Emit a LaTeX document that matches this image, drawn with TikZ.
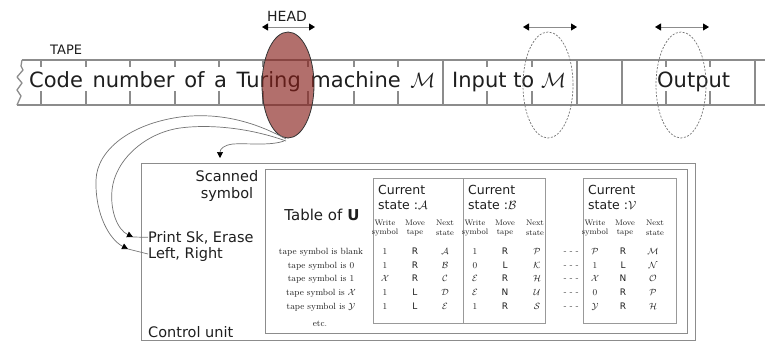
\documentclass[tikz,border=0pt]{standalone}
\usepackage{fontspec}
\setsansfont{DejaVu Sans}
\newfontfamily\tapefont[WordSpace=1.45]{DejaVu Sans}
\usetikzlibrary{shapes.geometric,arrows.meta}
\definecolor{headred}{RGB}{135,30,25}
\definecolor{txt}{RGB}{30,30,30}
\begin{document}
\begin{tikzpicture}[x=1pt,y=-1pt,
  tline/.style={draw=black!45, line width=1.3pt},
  bline/.style={draw=black!45, line width=1pt},
  cline/.style={draw=black!55, line width=0.7pt},
  tip/.style={-{Triangle[length=6pt,width=6pt,color=black]}},
  dtip/.style={{Triangle[length=6pt,width=7pt,color=black]}-{Triangle[length=6pt,width=7pt,color=black]}},
  big/.style={font=\sffamily\fontsize{21}{25}\selectfont, inner sep=0, text=txt},
  lab/.style={font=\sffamily\fontsize{14.5}{16.5}\selectfont, inner sep=0, text=txt},
  cur/.style={font=\sffamily\fontsize{12.5}{15}\selectfont, inner sep=0, text=txt, align=left, anchor=west},
  hdr/.style={font=\fontsize{8}{9.5}\selectfont, inner sep=0, text=txt, align=center},
  val/.style={font=\fontsize{9.5}{11}\selectfont, inner sep=0, text=txt, anchor=base},
  sval/.style={font=\sffamily\fontsize{9}{11}\selectfont, inner sep=0, text=txt, anchor=base},
  rowlab/.style={font=\fontsize{9}{11}\selectfont, inner sep=0, text=txt, anchor=base},
  dashed ell/.style={ellipse, draw=black!55, dash pattern=on 2pt off 1.5pt, line width=.7pt, minimum width=50, minimum height=106, inner sep=0}
]
\useasboundingbox (0,0) rectangle (765,341);
% ---------- tape ----------
\draw[tline] (22,60) -- (765,60);
\draw[tline] (17,105) -- (765,105);
\draw[tline, line join=round] (22,60) -- (21,66) -- (23,70) -- (17,77) -- (22,83) -- (17,90) -- (21,96) -- (17,105);
\foreach \x in {41,86,130,175,219,263,308,354,398,487,532,666,710} {
  \draw[tline] (\x,60) -- (\x,67);
  \draw[tline] (\x,91) -- (\x,105);
}
\foreach \x in {443,577,622,755} {
  \draw[tline] (\x,60) -- (\x,105);
}
\node[font=\sffamily\fontsize{13}{15}\selectfont, inner sep=0, text=txt, anchor=base west] (tape) at (50,54) {TAPE};
\node[big, font=\tapefont\fontsize{21}{25}\selectfont, anchor=base west] (code) at (29,87) {Code number of a Turing machine $\mathcal{M}$};
\node[big, anchor=base west] (input) at (452,87) {Input to $\mathcal{M}$};
\node[big, anchor=base west] (output) at (657,87) {Output};
% ---------- head ----------
\node[font=\sffamily\fontsize{14}{16}\selectfont, inner sep=0, text=txt, anchor=base west] (headlbl) at (267,21) {HEAD};
\node[ellipse, draw=black!80, line width=.8pt, fill=headred, fill opacity=.64, minimum width=52, minimum height=106, inner sep=0] (head) at (288,85) {};
\coordinate (ha1) at (262,27); \coordinate (ha2) at (315,27);
\draw[bline, dtip] (ha1) -- (ha2);
\node[dashed ell] (ein) at (548,85) {};
\node[dashed ell] (eout) at (681,85) {};
\coordinate (ia1) at (523,27); \coordinate (ia2) at (577,27);
\coordinate (oa1) at (655,27); \coordinate (oa2) at (709,27);
\draw[bline, dtip] (ia1) -- (ia2);
\draw[bline, dtip] (oa1) -- (oa2);
% ---------- control unit ----------
\draw[bline] (141,163) rectangle (695,340);
\draw[bline] (265,169) rectangle (687,333);
\node[lab, align=center] (scanned) at (227,186) {Scanned\\symbol};
\node[lab, anchor=base west] (print) at (148,242) {Print Sk, Erase};
\node[lab, anchor=base west] (left) at (148,258) {Left, Right};
\node[lab, anchor=base west] (cu) at (148,337) {Control unit};
% connectors head -> control unit
\coordinate (sc) at (220,158);
\coordinate (p1) at (133,237);
\coordinate (p2) at (128,249);
\draw[cline, tip] (284,141) .. controls (270,146) and (248,143) .. (233,144) .. controls (224,145) and (220,149) .. (sc);
\draw[cline, tip] (286,141) .. controls (250,128) and (210,124) .. (180,128) .. controls (145,133) and (115,160) .. (112,190) .. controls (110,212) and (118,230) .. (p1);
\draw[cline, tip] (286,139) .. controls (255,122) and (220,112) .. (180,117) .. controls (130,124) and (97,150) .. (96,180) .. controls (95,215) and (110,240) .. (p2);
\draw[cline] (p1) -- (print.west);
\draw[cline] (p2) -- (left.west);
% ---------- table of U ----------
\node[font=\sffamily\fontsize{15}{17}\selectfont, inner sep=0, text=txt, anchor=base] (tabu) at (322,220) {Table of \textbf{U}};
\foreach \t/\y [count=\i] in {blank/254,$0$/268,$1$/281.5,$\mathcal{X}$/295.5,$\mathcal{Y}$/309} {
  \node[rowlab] (rl\i) at (321,\y) {tape symbol is \t};
}
\node[rowlab] (etc) at (320,326) {etc.};
% state boxes
\draw[bline, draw=black!40] (373,178) rectangle (545,323);
\draw[bline, draw=black!40] (463,178) -- (463,323);
\draw[bline, draw=black!40] (583,178) rectangle (676,323);
\node[cur] (ca) at (378,197) {Current\\state :$\mathcal{A}$};
\node[cur] (cb) at (468,197) {Current\\state :$\mathcal{B}$};
\node[cur] (cv) at (588,197) {Current\\state :$\mathcal{V}$};
\foreach \x/\n in {385/a,475/b,595/v} {
  \node[hdr] (hw\n) at (\x,228) {Write\\symbol};
  \node[hdr] (hm\n) at (\x+30,228) {Move\\tape};
  \node[hdr] (hn\n) at (\x+60,228) {Next\\state};
}
% values
\foreach \w/\m/\s/\y [count=\i] in {1/R/\mathcal{A}/254, 1/R/\mathcal{B}/268, \mathcal{X}/R/\mathcal{C}/281.5, 1/L/\mathcal{D}/295.5, 1/L/\mathcal{E}/309} {
  \node[val] (aw\i) at (385,\y) {$\w$};
  \node[sval] (am\i) at (415,\y) {\m};
  \node[val] (as\i) at (445,\y) {$\s$};
}
\foreach \w/\m/\s/\y [count=\i] in {1/R/\mathcal{P}/254, 0/L/\mathcal{K}/268, \mathcal{E}/R/\mathcal{H}/281.5, \mathcal{E}/N/\mathcal{U}/295.5, 1/R/\mathcal{S}/309} {
  \node[val] (bw\i) at (475,\y) {$\w$};
  \node[sval] (bm\i) at (505,\y) {\m};
  \node[val] (bs\i) at (537,\y) {$\s$};
}
\foreach \w/\m/\s/\y [count=\i] in {\mathcal{P}/R/\mathcal{M}/254, 1/L/\mathcal{N}/268, \mathcal{X}/N/\mathcal{O}/281.5, 0/R/\mathcal{P}/295.5, \mathcal{Y}/R/\mathcal{H}/309} {
  \node[val] (vw\i) at (595,\y) {$\w$};
  \node[sval] (vm\i) at (623,\y) {\m};
  \node[val] (vs\i) at (653,\y) {$\s$};
  \node[sval, text=black!60] (dd\i) at (571,\y) {- - -};
}
\end{tikzpicture}
\end{document}
